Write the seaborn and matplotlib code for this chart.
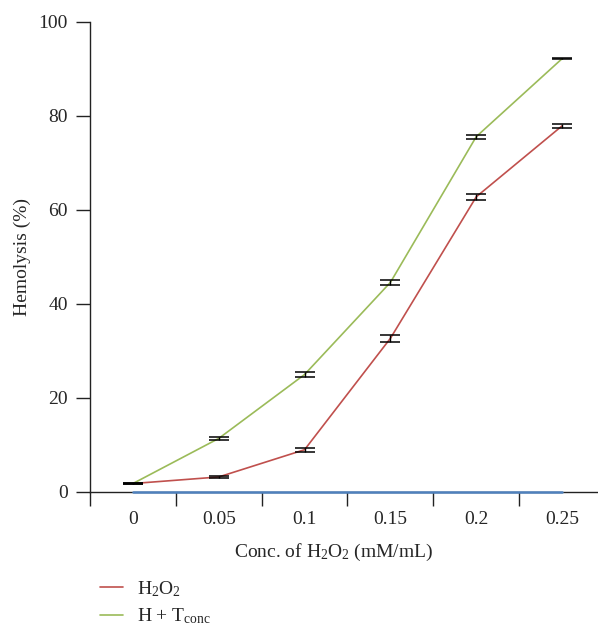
import numpy as np
import pandas as pd
import seaborn as sns
import matplotlib
matplotlib.use("Agg")
import matplotlib.pyplot as plt

# values
conc = ["0", "0.05", "0.1", "0.15", "0.2", "0.25"]
h2o2 = [1.8, 3.2, 9.0, 32.7, 62.8, 77.9]
h2o2_err = [0.2, 0.3, 0.45, 0.8, 0.7, 0.5]
h_t = [1.8, 11.4, 25.0, 44.6, 75.6, 92.2]
h_t_err = [0.2, 0.3, 0.5, 0.6, 0.45, 0.1]
control = [0, 0, 0, 0, 0, 0]

series_names = [r"H$_2$O$_2$", r"H + T$_{\mathrm{conc}}$"]
colors = ["#C0504D", "#9BBB59"]

sns.set_style("ticks")
plt.rcParams['font.family'] = ['Liberation Serif', 'DejaVu Serif']
plt.rcParams['mathtext.fontset'] = 'custom'
plt.rcParams['mathtext.rm'] = 'Liberation Serif'
plt.rcParams['mathtext.it'] = 'Liberation Serif:italic'
plt.rcParams['font.size'] = 14

pos = np.arange(len(conc))
df = pd.DataFrame({
    "pos": np.concatenate([pos, pos]),
    "val": h2o2 + h_t,
    "series": [series_names[0]] * len(conc) + [series_names[1]] * len(conc),
})

fig = plt.figure(figsize=(5.98, 6.30), dpi=100)
ax = fig.add_axes([90 / 598, 138 / 630, 515 / 598, 470 / 630])

# blue baseline series
ax.plot(pos, control, color="#4F81BD", lw=1.8, zorder=3, clip_on=False)

sns.lineplot(data=df, x="pos", y="val", hue="series", palette=colors,
             lw=1.2, ax=ax, legend=False, zorder=2)

ax.errorbar(pos, h2o2, yerr=h2o2_err, fmt="none", ecolor="black",
            elinewidth=1, capsize=7.5, capthick=1.1, zorder=4)
ax.errorbar(pos, h_t, yerr=h_t_err, fmt="none", ecolor="black",
            elinewidth=1, capsize=7.5, capthick=1.1, zorder=4)

ax.set_xlim(-0.5, 5.5)
ax.set_ylim(0, 100)
ax.set_yticks([0, 20, 40, 60, 80, 100])
ax.set_xticks(pos)
ax.set_xticklabels(conc)
ax.set_xticks(np.arange(-0.5, 5.6, 1), minor=True)
ax.tick_params(axis="x", which="major", length=0, pad=14)
ax.tick_params(axis="x", which="minor", length=10, width=1, color="#222222")
ax.tick_params(axis="y", length=10, width=1, pad=6, color="#222222")
for s in ["top", "right"]:
    ax.spines[s].set_visible(False)
for s in ["left", "bottom"]:
    ax.spines[s].set_color("#222222")
    ax.spines[s].set_linewidth(1)
ax.set_xlabel("")
ax.set_ylabel("Hemolysis (%)", labelpad=5)

fig.text(334 / 598, 1 - 552 / 630, r"Conc. of H$_2$O$_2$ (mM/mL)",
         ha="center", va="center")

handles = [plt.Line2D([], [], color=c, lw=1.2) for c in colors]
fig.legend(handles, series_names, loc="upper left",
           bbox_to_anchor=(100 / 598, 1 - 579 / 630), frameon=False,
           handlelength=1.2, handletextpad=0.7, labelspacing=0.4,
           borderaxespad=0, borderpad=0)

fig.savefig("out.png", dpi=100)
